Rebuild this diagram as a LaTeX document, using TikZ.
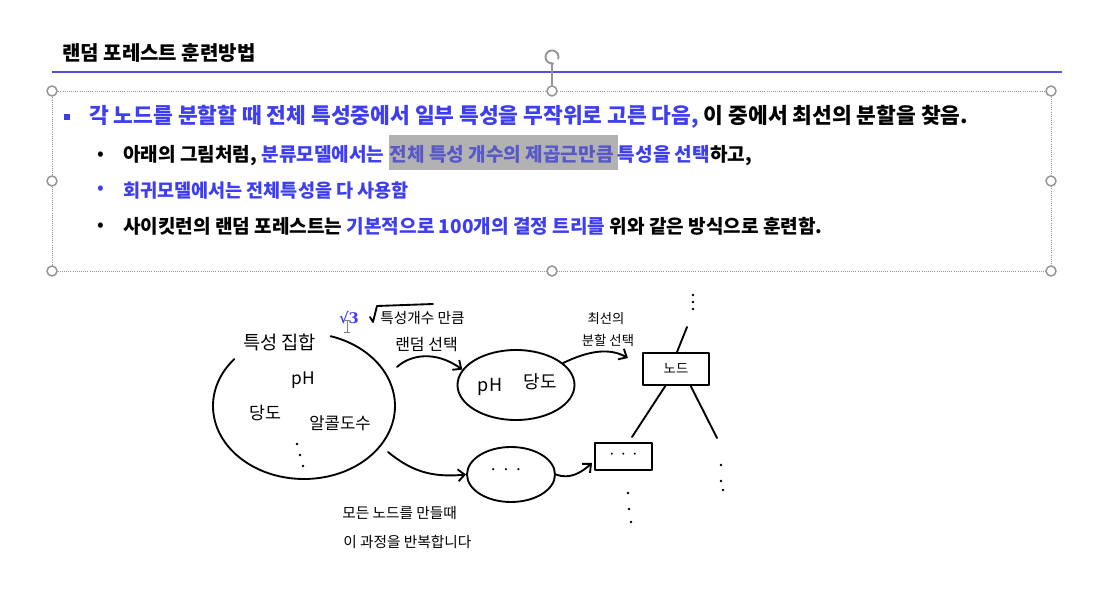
\documentclass[tikz,border=0pt]{standalone}
\usepackage{fontspec}
\setmainfont{Noto Sans CJK KR}
\newfontfamily\serf{DejaVu Serif}
\usetikzlibrary{arrows.meta,shapes.geometric,calc}
\definecolor{kblue}{RGB}{62,62,240}
\definecolor{lineblue}{RGB}{82,82,215}
\definecolor{hgray}{RGB}{178,178,178}
\definecolor{hgtext}{RGB}{88,88,200}
\definecolor{handle}{RGB}{150,150,150}
\begin{document}
\begin{tikzpicture}[x=0.75pt,y=-0.75pt,
  handlept/.style={circle,draw=handle,fill=white,line width=1.1pt,minimum size=7.5pt,inner sep=0pt},
  sel/.style={draw=handle,densely dotted,line width=0.6pt},
  txt/.style={anchor=base west,inner sep=0pt,font=\bfseries\fontsize{14.3}{17}\selectfont},
  bul/.style={inner sep=0pt,font=\fontsize{15}{16}\selectfont},
  hand/.style={line width=1.4pt,line cap=round,line join=round},
  harrow/.style={hand,-{Straight Barb[length=5pt,width=9pt,line width=1.4pt]}},
  htext/.style={inner sep=0pt,font=\fontsize{12}{14}\selectfont},
  dot/.style={circle,fill=black,inner sep=0pt,minimum size=2pt},
]
\useasboundingbox[fill=white] (0,0) rectangle (1114,598);

% title
\node[anchor=base west,inner sep=0pt,font=\bfseries\fontsize{15}{18}\selectfont] (title) at (62,61) {랜덤 포레스트 훈련방법};
\draw[lineblue,line width=1.5pt] (52,72.5) -- (1062,72.5);

% selection frame
\draw[sel] (52,91) rectangle (1051,271);
\draw[handle,line width=0.8pt] (552,64) -- (552,91);
\draw[handle,line width=1.4pt,-{Stealth[length=2.5pt,width=3.5pt]}] (552,57) ++(20:6.5) arc[start angle=20,end angle=-290,radius=6.5];
\node[handlept] (h1) at (52,91) {};
\node[handlept] (h2) at (552,91) {};
\node[handlept] (h3) at (1051,91) {};
\node[handlept] (h4) at (52,181) {};
\node[handlept] (h5) at (1051,181) {};
\node[handlept] (h6) at (52,271) {};
\node[handlept] (h7) at (552,271) {};
\node[handlept] (h8) at (1051,271) {};

% bullet lines
\node[fill=kblue,minimum size=4.5pt,inner sep=0pt] (b1) at (67,117) {};
\node[txt,font=\bfseries\fontsize{16.1}{19}\selectfont] (l1) at (89,124) {\color{kblue}각 노드를 분할할 때 전체 특성중에서 일부 특성을 무작위로 고른 다음, \color{black}이 중에서 최선의 분할을 찾음.};

\node[bul] (b2) at (101,156) {•};
\node[txt] (l2) at (123,162) {아래의 그림처럼, \color{kblue}분류모델에서는 {\setlength{\fboxsep}{0pt}\colorbox{hgray}{\rule[-6pt]{0pt}{26pt}\hspace{1pt}\color{hgtext}전체 특성 개수의 제곱근만큼 }}\color{kblue}특성을 선택\color{black}하고,};

\node[bul,text=kblue] (b3) at (101,190) {•};
\node[txt,text=kblue,font=\bfseries\fontsize{13.9}{17}\selectfont] (l3) at (123,198) {회귀모델에서는 전체특성을 다 사용함};

\node[bul] (b4) at (101,227) {•};
\node[txt] (l4) at (123,234) {사이킷런의 랜덤 포레스트는 \color{kblue}기본적으로 100개의 결정 트리를 \color{black}위와 같은 방식으로 훈련함.};

% ---------- sketch ----------
\node[inner sep=0pt,text=kblue,font=\serf\bfseries\fontsize{11}{12}\selectfont] (sq3) at (349,318) {√3};
\draw[gray,line width=0.7pt] (344,320) -- (350,320) (347,320) -- (347,332) (344,332) -- (350,332);

\draw[hand] (370,317) -- (373,322) -- (377,306) -- (433,304);
\node[htext,font=\fontsize{11}{13}\selectfont,anchor=west] (feat) at (380,318) {특성개수 만큼};
\node[htext,anchor=west] (rand) at (395,345) {랜덤 선택};
\node[htext,font=\fontsize{14}{16}\selectfont,anchor=west] (setlbl) at (243,342) {특성 집합};

% big set circle
\coordinate (bc) at (304,406);
\draw[hand] (bc) ++(220:91 and 73) arc[start angle=220,end angle=-73,x radius=91,y radius=73];
\node[htext,font=\fontsize{13}{15}\selectfont] (ph1) at (303,380) {pH};
\node[htext,font=\fontsize{13}{15}\selectfont] (sug1) at (265,413) {당도};
\node[htext,font=\fontsize{12.5}{14}\selectfont] (alc) at (340,423) {알콜도수};
\node[dot] (d1) at (297,444) {};
\node[dot] (d2) at (300,455) {};
\node[dot] (d3) at (303,466) {};

% selected-feature ellipses
\node[ellipse,draw,hand,minimum width=87.75pt,minimum height=52.5pt,inner sep=0pt] (e1) at (516,385) {};
\node[htext,font=\fontsize{13.5}{15}\selectfont] (ph2) at (490,387) {pH};
\node[htext,font=\fontsize{13.5}{15}\selectfont] (sug2) at (540,382) {당도};

\node[ellipse,draw,hand,minimum width=66pt,minimum height=41.25pt,inner sep=0pt] (e2) at (511,474.5) {};
\node[htext,font=\fontsize{12}{14}\selectfont] (e2t) at (506,472) {· · ·};

% tree nodes
\node[draw,hand,minimum width=49.5pt,minimum height=24pt,inner sep=0pt,font=\fontsize{10}{11}\selectfont] (n1) at (676,369) {노드};
\node[draw,hand,minimum width=42.75pt,minimum height=20.25pt,inner sep=0pt,font=\fontsize{11}{12}\selectfont] (n2) at (623.5,456.5) {· · ·};

\coordinate (c1s) at (397,367);
\coordinate (c2s) at (388,452);
\coordinate (a2e) at (628,358);
\coordinate (a3e) at (592,463);
\coordinate (tu) at (687,327);
\coordinate (tl) at (632,437);
\coordinate (tr) at (717,438);

\draw[harrow] (c1s) .. controls (410,355) and (435,350) .. (e1.164);
\draw[harrow] (c2s) .. controls (410,470) and (430,478) .. (e2.west);
\draw[harrow] (e1.25) .. controls (590,350) and (610,348) .. (a2e);
\draw[harrow] (e2.east) .. controls (570,480) and (582,472) .. (a3e);

\node[htext,font=\fontsize{10}{11}\selectfont] (best1) at (606,319) {최선의};
\node[htext,font=\fontsize{10}{11}\selectfont] (best2) at (608,340) {분할 선택};

\draw[hand] (n1.north) ++(1,0) -- (tu);
\draw[hand] ([xshift=-8]n1.south) -- (tl);
\draw[hand] ([xshift=11]n1.south) -- (tr);
\node[dot] (u1) at (693,295) {};
\node[dot] (u2) at (693,302) {};
\node[dot] (u3) at (693,309) {};
\node[dot] (r1) at (721,465) {};
\node[dot] (r2) at (721,481) {};
\node[dot] (r3) at (723,490) {};
\node[dot] (q1) at (628,493) {};
\node[dot] (q2) at (629,509) {};
\node[dot] (q3) at (631,522) {};

\node[htext,font=\fontsize{11}{13}\selectfont,anchor=west] (rep1) at (342,513) {모든 노드를 만들때};
\node[htext,font=\fontsize{11}{13}\selectfont,anchor=west] (rep2) at (343,542) {이 과정을 반복합니다};
\end{tikzpicture}
\end{document}
